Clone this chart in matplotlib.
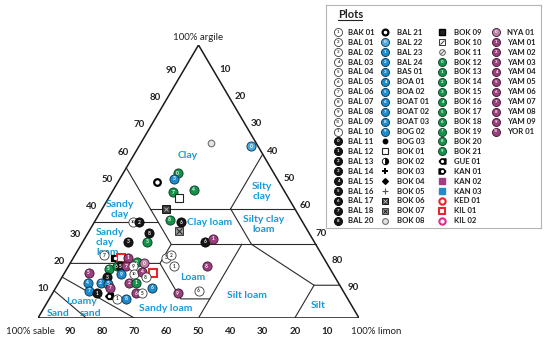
import numpy as np
import matplotlib
matplotlib.use("Agg")
import matplotlib.pyplot as plt

plt.rcParams['font.family'] = ['Lato', 'DejaVu Sans']

# legend: plot names, symbol kind and the digit printed in the symbol
legend_names = ["BAK 01", "BAL 01", "BAL 02", "BAL 03", "BAL 04", "BAL 05", "BAL 06", "BAL 07",
                "BAL 08", "BAL 09", "BAL 10", "BAL 11", "BAL 12", "BAL 13", "BAL 14", "BAL 15",
                "BAL 16", "BAL 17", "BAL 18", "BAL 20",
                "BAL 21", "BAL 22", "BAL 23", "BAL 24", "BAS 01", "BOA 01", "BOA 02", "BOAT 01",
                "BOAT 02", "BOAT 03", "BOG 02", "BOG 03", "BOK 01", "BOK 02", "BOK 03", "BOK 04",
                "BOK 05", "BOK 06", "BOK 07", "BOK 08",
                "BOK 09", "BOK 10", "BOK 11", "BOK 12", "BOK 13", "BOK 14", "BOK 15", "BOK 16",
                "BOK 17", "BOK 18", "BOK 19", "BOK 20", "BOK 21", "GUE 01", "KAN 01", "KAN 02",
                "KAN 03", "KED 01", "KIL 01", "KIL 02",
                "NYA 01", "YAM 01", "YAM 02", "YAM 03", "YAM 04", "YAM 05", "YAM 06", "YAM 07",
                "YAM 08", "YAM 09", "YOR 01"]
legend_kinds = (["w"] * 11 + ["k"] * 9 +
                ["ring_k", "bl"] + ["b"] * 9 +
                ["dot_k", "sq_w", "half", "plus", "diam", "div", "sq_dark", "sq_x", "ring_gray"] +
                ["sq_k", "sq_diag", "o_slash"] + ["g"] * 10 +
                ["tag_l", "tag_r", "sq_m", "sq_b", "ring_r", "sqring_r", "ring_pk"] +
                ["pl"] + ["p"] * 10)
legend_digits = (["1", "2", "3", "4", "5", "6", "7", "8", "9", "10", "1"] +
                 ["0", "1", "2", "3", "4", "5", "6", "7", "8"] +
                 ["", "0", "1", "2", "3", "4", "5", "6", "7", "8", "9"] + [""] * 9 +
                 ["", "", ""] + [str(i) for i in range(10)] + [""] * 7 +
                 [str(i) for i in range(10)] + ["10"])
legend_rows = [20, 20, 20, 11]

# samples: sand %, clay % and plot name
pt_sand = [14, 2, 30, 32, 38, 35, 28, 34, 40, 41,
           38, 40, 34, 31, 49, 47, 48, 38, 52, 45,
           53, 51, 50, 58, 52, 68, 65, 63, 61, 59,
           57, 69, 66, 65, 63, 61, 76, 66, 62, 59,
           56, 71, 59, 78, 74, 72, 72, 65, 63, 59,
           79, 77, 74, 72, 69, 65, 63]
pt_clay = [64, 63, 53, 51, 50, 46, 47, 44, 40, 36,
           35, 32, 28, 29, 22, 23, 19, 19, 9, 10,
           35, 35, 31, 28, 28, 23, 22, 22, 22, 20.5,
           20, 18, 19, 19, 19, 19, 16.5, 16, 16, 17,
           16.5, 15, 15, 13, 13, 12.5, 11, 13, 13, 11,
           10, 9, 8, 7, 7, 9, 9]
pt_plot = ["BOK 08", "BAL 22", "BOK 12", "BAS 01", "BAL 21", "BOK 19", "BOK 16", "BOK 01", "BOK 06", "BOK 20",
           "BAL 17", "BOK 07", "BAL 17", "YAM 01", "BAL 02", "BAL 01", "BAK 01", "YAM 08", "YAM 09", "BAL 05",
           "BAL 09", "BAL 13", "BAL 20", "BAL 14", "BOK 15", "BAL 06", "KAN 01", "KIL 01", "YAM 01", "BOK 14",
           "NYA 01", "BOK 17", "BOK 18", "BAL 16", "YAM 07", "BAL 08", "YAM 05", "BOG 02", "BAL 09", "YAM 04",
           "KIL 01", "BAL 14", "BAL 07", "BOA 01", "BAL 24", "BOA 02", "YAM 07", "YAM 02", "BOK 13", "BOAT 01",
           "BOAT 02", "BAL 12", "GUE 01", "BAK 01", "BOAT 03", "YAM 06", "BAL 04"]

# texture class boundaries (sand, silt, clay)
class_lines = [
    [(90, 0, 10), (85, 15, 0)],
    [(85, 0, 15), (70, 30, 0)],
    [(80, 0, 20), (52, 28, 20), (52, 41, 7), (43, 50, 7)],
    [(50, 50, 0), (23, 50, 27)],
    [(65, 0, 35), (45, 20, 35)],
    [(45, 0, 55), (45, 28, 27), (52, 28, 20)],
    [(45, 28, 27), (0, 73, 27)],
    [(45, 15, 40), (0, 60, 40)],
    [(20, 40, 40), (20, 53, 27)],
    [(20, 40, 40), (0, 40, 60)],
    [(20, 53, 27), (8, 80, 12), (0, 88, 12)],
    [(20, 80, 0), (8, 80, 12)],
]
class_names = ["Clay", "Sandy\nclay", "Sandy\nclay\nloam", "Clay loam", "Silty\nclay",
               "Silty clay\nloam", "Loam", "Silt loam", "Silt", "Sandy loam", "Loamy", "sand", "Sand"]
class_x = [46.7, 25.5, 18.1, 53.6, 69.8, 70.4, 48.3, 65.1, 87.2, 39.9, 13.7, 16.5, 6.2]
class_y = [59.7, 39.9, 27.8, 34.8, 46.5, 34.4, 14.7, 8.1, 4.4, 3.3, 5.9, 1.8, 1.5]
class_ha = ["center", "center", "left", "center", "center", "center", "center", "center",
            "center", "center", "center", "center", "center"]

ticks = [10, 20, 30, 40, 50, 60, 70, 80, 90]

face = {"w": "white", "k": "#161616", "b": "#1c8ccd", "bl": "#4aa9dd", "g": "#12924a",
        "p": "#9b3e7e", "pl": "#b980a8"}
edge = {"w": "#3a3a3a", "k": "#000000", "b": "#0c2f48", "bl": "#0c2f48", "g": "#083a1d",
        "p": "#3c152e", "pl": "#3c152e"}
ink = {"w": "#333333"}

sym_kind = dict(zip(legend_names, legend_kinds))
sym_digit = dict(zip(legend_names, legend_digits))
tag_l = [(-1, 0), (-0.3, 0.75), (1, 0.75), (1, -0.75), (-0.3, -0.75), (-1, 0)]
tag_r = [(-x, y) for x, y in tag_l]
diag = [(-1, -1), (1, 1)]


def draw_symbol(a, x, y, name, ms=6.6, fs=3.5):
    kind = sym_kind[name]
    digit = sym_digit[name]
    if kind in face:
        a.plot(x, y, "o", ms=ms, mfc=face[kind], mec=edge[kind], mew=0.6, zorder=3)
        a.text(x, y, digit, fontsize=fs if len(digit) == 1 else fs * 0.8, color=ink.get(kind, "white"),
               ha="center", va="center", fontweight="bold", zorder=4)
    elif kind == "ring_k":
        a.plot(x, y, "o", ms=ms * 0.72, mfc="white", mec="black", mew=1.6, zorder=3)
    elif kind == "dot_k":
        a.plot(x, y, "o", ms=ms * 0.55, color="black", zorder=3)
    elif kind == "sq_w":
        a.plot(x, y, "s", ms=ms * 0.85, mfc="white", mec="#222222", mew=0.8, zorder=3)
    elif kind == "half":
        a.plot(x, y, "o", ms=ms * 0.8, fillstyle="right", mfc="black", markerfacecoloralt="white",
               mec="black", mew=0.6, zorder=3)
    elif kind == "plus":
        a.plot(x, y, "+", ms=ms * 0.8, mew=1.4, color="black", zorder=3)
    elif kind == "diam":
        a.plot(x, y, "D", ms=ms * 0.5, color="black", zorder=3)
    elif kind == "div":
        a.plot(x, y, "+", ms=ms * 0.8, mew=0.8, color="#555555", zorder=3)
    elif kind == "sq_dark":
        a.plot(x, y, "s", ms=ms * 0.8, mfc="#3a3a3a", mec="black", mew=0.6, zorder=3)
        a.plot(x, y, "x", ms=ms * 0.4, mew=0.6, color="#bbbbbb", zorder=4)
    elif kind == "sq_x":
        a.plot(x, y, "s", ms=ms * 0.8, mfc="#9a9a9a", mec="#222222", mew=0.6, zorder=3)
        a.plot(x, y, "x", ms=ms * 0.55, mew=0.7, color="#222222", zorder=4)
    elif kind == "ring_gray":
        a.plot(x, y, "o", ms=ms * 0.72, mfc="#e4e4e4", mec="#6f6f6f", mew=0.8, zorder=3)
    elif kind == "sq_k":
        a.plot(x, y, "s", ms=ms * 0.7, mfc="#222222", mec="black", zorder=3)
    elif kind == "sq_diag":
        a.plot(x, y, "s", ms=ms * 0.75, mfc="white", mec="#333333", mew=0.7, zorder=3)
        a.plot(x, y, marker=diag, ms=ms * 0.5, mec="#333333", mew=0.7, zorder=4)
    elif kind == "o_slash":
        a.plot(x, y, "o", ms=ms * 0.7, mfc="white", mec="#555555", mew=0.7, zorder=3)
        a.plot(x, y, marker=diag, ms=ms * 0.45, mec="#555555", mew=0.7, zorder=4)
    elif kind in ("tag_l", "tag_r"):
        a.plot(x, y, marker=tag_l if kind == "tag_l" else tag_r, ms=ms * 0.85, mfc="black",
               mec="black", zorder=3)
        a.plot(x, y, "o", ms=ms * 0.22, color="white", zorder=4)
    elif kind == "sq_m":
        a.plot(x, y, "s", ms=ms * 0.75, color="#a53b82", zorder=3)
    elif kind == "sq_b":
        a.plot(x, y, "s", ms=ms * 0.75, color="#1c8ccd", zorder=3)
    elif kind == "ring_r":
        a.plot(x, y, "o", ms=ms * 0.78, mfc="white", mec="#e8262b", mew=1.5, zorder=3)
    elif kind == "sqring_r":
        a.plot(x, y, "s", ms=ms * 0.85, mfc="white", mec="#e8262b", mew=1.5, zorder=3)
    elif kind == "ring_pk":
        a.plot(x, y, "o", ms=ms * 0.78, mfc="white", mec="#e22a91", mew=1.5, zorder=3)


def tern(sand, silt, clay):
    return silt + clay / 2.0, clay


fig = plt.figure(figsize=(5.5, 3.43), dpi=100)
ax = fig.add_axes([38 / 550, 25 / 343, 321 / 550, 273 / 343])
ax.set_xlim(0, 100)
ax.set_ylim(0, 100)
ax.axis("off")

ax.plot([0, 100, 50, 0], [0, 0, 100, 0], color="#1a1a1a", lw=1.1, zorder=2)
for line in class_lines:
    xs, ys = zip(*[tern(*p) for p in line])
    ax.plot(xs, ys, color="#2a2a2a", lw=0.8, zorder=2)

for name, x, y, ha in zip(class_names, class_x, class_y, class_ha):
    ax.text(x, y, name, color="#1a9bd7", fontsize=7.5, fontweight="bold", ha=ha, va="center",
            linespacing=1.15)

lab = dict(fontsize=7, fontweight="bold", color="#222222", ha="center", va="center")
for t in ticks:
    ax.annotate(str(t), tern(100 - t, 0, t), xytext=(-11, 2), textcoords="offset pixels", **lab)
    ax.annotate(str(t), tern(0, t, 100 - t), xytext=(10, 3), textcoords="offset pixels", **lab)
    ax.annotate(str(t), tern(t, 100 - t, 0), xytext=(0, -13), textcoords="offset pixels", **lab)
ax.annotate("100% argile", (50, 100), xytext=(0, 8), textcoords="offset pixels",
            fontsize=7, color="#222222", ha="center", va="center")
ax.annotate("100% sable", (0, 0), xytext=(-8, -13), textcoords="offset pixels",
            fontsize=7, color="#222222", ha="center", va="center")
ax.annotate("100% limon", (100, 0), xytext=(17, -13), textcoords="offset pixels",
            fontsize=7, color="#222222", ha="center", va="center")

for s, c, name in zip(pt_sand, pt_clay, pt_plot):
    x, y = tern(s, 100 - s - c, c)
    draw_symbol(ax, x, y, name)

# legend box, in pixel units
lax = fig.add_axes([326 / 550, 1 - 228 / 343, 215 / 550, 223 / 343])
lax.set_xlim(326, 541)
lax.set_ylim(228, 5)
lax.set_xticks([])
lax.set_yticks([])
for sp in lax.spines.values():
    sp.set_color("#b5b5b5")
    sp.set_linewidth(0.8)
lax.text(338, 14, "Plots", fontsize=8, fontweight="bold", color="#222222", va="center")
lax.plot([338, 362], [19.5, 19.5], color="#222222", lw=0.8)

col_mx = [338, 385, 442, 496]
col_tx = [348, 397, 454, 507]
i = 0
for c, n in enumerate(legend_rows):
    for r in range(n):
        y = 32.3 + r * 9.92
        name = legend_names[i]
        draw_symbol(lax, col_mx[c], y, name, ms=5.8, fs=3.2)
        lax.text(col_tx[c], y, name, fontsize=5.6, fontweight="bold", color="#222222",
                 va="center", ha="left")
        i += 1

fig.savefig("out.png", dpi=100)
